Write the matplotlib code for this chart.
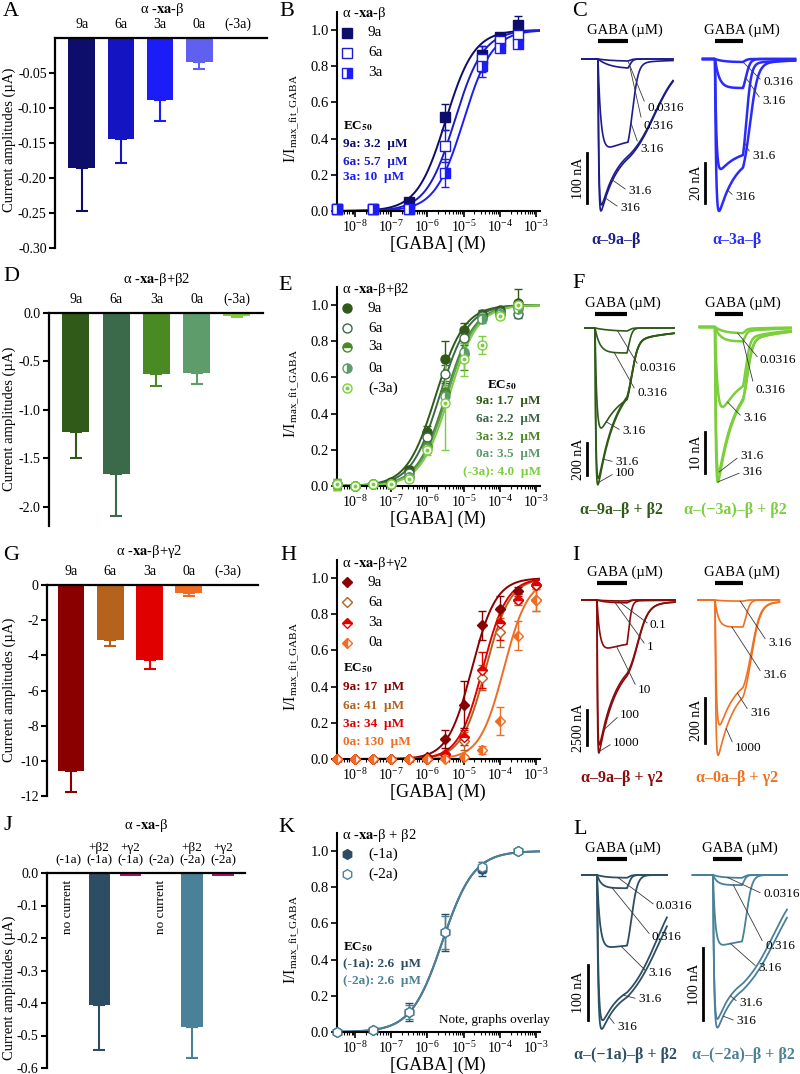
import numpy as np
import matplotlib
matplotlib.use("Agg")
import matplotlib.pyplot as plt
from matplotlib.lines import Line2D
from matplotlib.ticker import FixedLocator, LogLocator, NullFormatter

plt.rcParams['font.family'] = ['Liberation Serif', 'DejaVu Serif']
plt.rcParams['mathtext.fontset'] = 'stix'
plt.rcParams['axes.unicode_minus'] = False

W, H = 800, 1074

# ---------------- bar charts: current amplitudes (uA) ----------------
cats5 = ['9a', '6a', '3a', '0a', '(-3a)']
a_mean = [-0.185, -0.144, -0.089, -0.034, 0.0]
a_sem = [0.062, 0.034, 0.029, 0.010, 0.0]
a_cols = ['#0d0d6b', '#1414c2', '#1c1cf6', '#5f5ff0', '#8a8af5']

d_mean = [-1.23, -1.66, -0.63, -0.62, -0.03]
d_sem = [0.27, 0.44, 0.12, 0.11, 0.01]
d_cols = ['#2f5a17', '#3a6a49', '#4a8a22', '#5e9c6c', '#7ccf3a']

g_mean = [-10.6, -3.1, -4.25, -0.45, 0.0]
g_sem = [1.2, 0.35, 0.5, 0.15, 0.0]
g_cols = ['#8a0000', '#b4621c', '#e00000', '#ef6c22', '#f5a070']

j_cats = ['(-1a)', '+β2\n(-1a)', '+γ2\n(-1a)', '(-2a)', '+β2\n(-2a)', '+γ2\n(-2a)']
j_mean = [0.0, -0.405, -0.008, 0.0, -0.475, -0.010]
j_sem = [0.0, 0.14, 0.0, 0.0, 0.093, 0.0]
j_cols = ['#2d4e62', '#2d4e62', '#b0106a', '#4b8198', '#4b8198', '#b0106a']

# ---------------- dose-response data ----------------
b_conc = [3.16e-9, 3.16e-8, 3.16e-7, 3.16e-6, 3.16e-5, 1e-4, 3.16e-4]
b_names = ['9a', '6a', '3a']
b_9a = [0.01, 0.01, 0.05, 0.52, 0.86, 0.96, 1.03]
b_9a_sem = [0.0, 0.01, 0.01, 0.07, 0.05, 0.01, 0.05]
b_6a = [0.01, 0.01, 0.01, 0.36, 0.84, 0.94, 0.97]
b_6a_sem = [0.0, 0.01, 0.01, 0.09, 0.07, 0.02, 0.03]
b_3a = [0.01, 0.01, 0.01, 0.21, 0.80, 0.90, 0.92]
b_3a_sem = [0.0, 0.01, 0.01, 0.08, 0.06, 0.02, 0.02]
b_ec50 = [3.2, 5.7, 10]
b_cols = ['#0d0d6b', '#1c1cc8', '#1c1cf6']

e_conc = [3.16e-9, 1e-8, 3.16e-8, 1e-7, 3.16e-7, 1e-6, 3.16e-6, 1e-5, 3.16e-5, 1e-4, 3.16e-4]
e_names = ['9a', '6a', '3a', '0a', '(-3a)']
e_9a = [0.01, 0.0, 0.01, 0.02, 0.09, 0.30, 0.70, 0.86, 0.95, 0.97, 1.01]
e_9a_sem = [0.03, 0.01, 0.01, 0.01, 0.02, 0.03, 0.10, 0.04, 0.02, 0.01, 0.08]
e_6a = [0.01, 0.0, 0.01, 0.01, 0.07, 0.27, 0.62, 0.82, 0.94, 0.96, 0.95]
e_6a_sem = [0.02, 0.01, 0.01, 0.01, 0.02, 0.03, 0.05, 0.04, 0.02, 0.01, 0.01]
e_3a = [0.01, 0.0, 0.01, 0.01, 0.05, 0.22, 0.52, 0.73, 0.93, 0.95, 0.99]
e_3a_sem = [0.02, 0.01, 0.01, 0.01, 0.02, 0.03, 0.06, 0.09, 0.02, 0.01, 0.02]
e_0a = [0.01, 0.0, 0.01, 0.01, 0.05, 0.21, 0.50, 0.74, 0.92, 0.95, 0.98]
e_0a_sem = [0.02, 0.01, 0.01, 0.01, 0.02, 0.03, 0.06, 0.05, 0.02, 0.01, 0.02]
e_m3a = [0.01, 0.0, 0.01, 0.01, 0.04, 0.20, 0.46, 0.70, 0.78, 0.94, 1.00]
e_m3a_sem = [0.03, 0.01, 0.01, 0.01, 0.02, 0.03, 0.26, 0.09, 0.05, 0.02, 0.02]
e_ec50 = [1.7, 2.2, 3.2, 3.5, 4.0]
e_cols = ['#2f5a17', '#3a6a49', '#4a8a22', '#5e9c6c', '#7ccf3a']

h_conc = [3.16e-9, 1e-8, 3.16e-8, 1e-7, 3.16e-7, 1e-6, 3.16e-6, 1e-5, 3.16e-5, 1e-4, 3.16e-4, 1e-3]
h_names = ['9a', '6a', '3a', '0a']
h_9a = [0.0, 0.0, 0.0, 0.0, 0.0, 0.01, 0.11, 0.30, 0.74, 0.83, 0.93, 0.96]
h_9a_sem = [0, 0, 0, 0, 0, 0.01, 0.05, 0.13, 0.08, 0.07, 0.02, 0.01]
h_6a = [0.0, 0.0, 0.0, 0.0, 0.0, 0.0, 0.02, 0.10, 0.45, 0.70, 0.88, 0.88]
h_6a_sem = [0, 0, 0, 0, 0, 0, 0.01, 0.05, 0.07, 0.08, 0.03, 0.06]
h_3a = [0.0, 0.0, 0.0, 0.0, 0.0, 0.0, 0.03, 0.12, 0.49, 0.75, 0.88, 0.96]
h_3a_sem = [0, 0, 0, 0, 0, 0, 0.01, 0.04, 0.10, 0.09, 0.02, 0.01]
h_0a = [0.0, 0.0, 0.0, 0.0, 0.0, 0.0, 0.0, 0.01, 0.05, 0.21, 0.68, 0.88]
h_0a_sem = [0, 0, 0, 0, 0, 0, 0, 0.01, 0.02, 0.08, 0.08, 0.06]
h_ec50 = [17, 41, 34, 130]
h_cols = ['#8a0000', '#b4621c', '#e00000', '#ef6c22']

k_conc = [3.16e-9, 3.16e-8, 3.16e-7, 3.16e-6, 3.16e-5, 3.16e-4]
k_names = ['(-1a)', '(-2a)']
k_1a = [0.0, 0.01, 0.11, 0.55, 0.90, 1.0]
k_1a_sem = [0.0, 0.01, 0.05, 0.10, 0.04, 0.0]
k_2a = [0.0, 0.01, 0.11, 0.55, 0.91, 1.0]
k_2a_sem = [0.0, 0.01, 0.04, 0.09, 0.03, 0.0]
k_ec50 = [2.6, 2.6]
k_cols = ['#2d4e62', '#4b8198']

# ---------------- example current traces ----------------
# per trace: (peak nA, onset tau, steady fraction, wash-out delay, slow tail)
c1_labels = ['0.0316', '0.316', '3.16', '31.6', '316']
c1_params = [(4, 0.5, 1.0, 0.05, 0.0), (18, 0.4, 1.0, 0.05, 0.0), (176, 0.1, 0.8, 0.15, 0.05),
             (292, 0.03, 0.5, 0.9, 0.12), (304, 0.025, 0.5, 0.9, 0.15)]
c2_labels = ['0.316', '3.16', '31.6', '316']
c2_params = [(1.5, 0.3, 1.0, 0.05, 0.0), (14.5, 0.15, 1.0, 0.1, 0.0), (55, 0.05, 0.75, 0.12, 0.05),
             (76, 0.04, 0.54, 0.25, 0.05)]
f1_labels = ['0.0316', '0.316', '3.16', '31.6', '100']
f1_params = [(19, 0.5, 1.0, 0.05, 0.0), (156, 0.15, 1.0, 0.05, 0.0), (625, 0.06, 0.5, 0.15, 0.2),
             (940, 0.03, 0.25, 0.15, 0.2), (980, 0.025, 0.25, 0.15, 0.2)]
f2_labels = ['0.0316', '0.316', '3.16', '31.6', '316']
f2_params = [(1.5, 0.3, 1.0, 0.05, 0.3), (3.5, 0.2, 1.0, 0.05, 0.3), (19.5, 0.1, 0.45, 0.1, 0.2),
             (35.6, 0.04, 0.27, 0.15, 0.2), (37.8, 0.03, 0.27, 0.15, 0.2)]
i1_labels = ['0.1', '1', '10', '100', '1000']
i1_params = [(70, 0.3, 1.0, 0.05, 0.0), (200, 0.3, 1.0, 0.05, 0.0), (3430, 0.1, 0.75, 0.05, 0.02),
             (10360, 0.02, 0.33, 0.35, 0.08), (10930, 0.015, 0.33, 0.35, 0.08)]
i2_labels = ['3.16', '31.6', '316', '1000']
i2_params = [(5, 0.3, 1.0, 0.05, 0.0), (120, 0.12, 1.0, 0.1, 0.0), (555, 0.05, 0.5, 0.3, 0.05),
             (690, 0.03, 0.45, 0.3, 0.05)]
l1_labels = ['0.0316', '0.316', '3.16', '31.6', '316']
l1_params = [(5, 0.3, 1.0, 0.05, 0.0), (24, 0.15, 1.0, 0.05, 0.0), (131, 0.1, 0.9, 0.15, 0.0),
             (264, 0.05, 0.65, 1.0, 0.12), (280, 0.04, 0.65, 1.1, 0.15)]
l2_labels = ['0.0316', '0.316', '3.16', '31.6', '316']
l2_params = [(4, 0.3, 1.0, 0.05, 0.0), (14, 0.15, 1.0, 0.05, 0.0), (97, 0.08, 0.85, 0.15, 0.0),
             (200, 0.04, 0.6, 1.1, 0.15), (212, 0.04, 0.6, 1.2, 0.15)]
scale_nA = {'C1': 100, 'C2': 20, 'F1': 200, 'F2': 10, 'I1': 2500, 'I2': 200, 'L1': 100, 'L2': 100}
TDES = 0.6

fig = plt.figure(figsize=(8, 10.74), dpi=100)


def ftext(px, py, s, **kw):
    return fig.text(px / W, 1 - py / H, s, **kw)


def px_axes(l, t, r, b):
    ax = fig.add_axes([l / W, 1 - b / H, (r - l) / W, (b - t) / H])
    ax.set_facecolor('none')
    return ax


# ---------------- bar panels ----------------
def bar_panel(box, cats, mean, sem, cols, ylim, yticks, fmt, xlim, width, title, title_px, ylab_py,
              catsize=10):
    ax = px_axes(*box)
    x = np.arange(len(cats))
    ax.bar(x, mean, width, color=cols, zorder=2)
    for xi, m, s, c in zip(x, mean, sem, cols):
        if s > 0:
            ax.errorbar([xi], [m], yerr=[[s], [0]], fmt='none', ecolor=c, elinewidth=1.5,
                        capsize=4.5, capthick=1.5, zorder=3)
    ax.set_xlim(*xlim)
    ax.set_ylim(*ylim)
    ax.spines[['right', 'bottom']].set_visible(False)
    ax.spines['top'].set_linewidth(1.6)
    ax.spines['left'].set_linewidth(1.6)
    ax.xaxis.tick_top()
    ax.set_xticks(x)
    ax.set_xticklabels(cats, fontsize=catsize, linespacing=1.0)
    ax.tick_params(axis='x', length=0, pad=5)
    ax.set_yticks(yticks)
    ax.set_yticklabels([fmt % v for v in yticks], fontsize=10)
    ax.tick_params(axis='y', direction='out', length=4, width=1.5, pad=2)
    ftext(title_px[0], title_px[1], title, ha='center', va='center', fontsize=10.5)
    ftext(9, ylab_py, 'Current amplitudes (µA)', rotation=90, ha='center', va='center', fontsize=10.5)
    return ax


bar_panel((55, 38, 267, 248), cats5, a_mean, a_sem, a_cols, (-0.30, 0),
          [-0.05, -0.10, -0.15, -0.20, -0.25, -0.30], '%.2f', (-0.69, 4.74), 0.69,
          r'α -$\mathbf{xa}$-β', (162, 9), 140)
bar_panel((49, 313, 263, 526), cats5, d_mean, d_sem, d_cols, (-2.2, 0),
          [0.0, -0.5, -1.0, -1.5, -2.0], '%.1f', (-0.67, 4.65), 0.67,
          r'α -$\mathbf{xa}$-β+β2', (157, 280), 419)
bar_panel((47, 585, 258, 796), cats5, g_mean, g_sem, g_cols, (-12, 0),
          [0, -2, -4, -6, -8, -10, -12], '%d', (-0.61, 4.76), 0.68,
          r'α -$\mathbf{xa}$-β+γ2', (149, 552), 690)
axj = bar_panel((47, 873, 245, 1068), j_cats, j_mean, j_sem, j_cols, (-0.6, 0),
                [0.0, -0.1, -0.2, -0.3, -0.4, -0.5, -0.6], '%.1f', (-0.68, 5.71), 0.68,
                r'α -$\mathbf{xa}$-β', (146, 825), 988, catsize=9.5)
for xi, v in enumerate(j_mean):
    if v == 0:
        axj.text(xi, -0.02, 'no current', rotation=90, ha='center', va='top', fontsize=9.5)


# ---------------- dose-response panels ----------------
def marker_lines(x, y, c, st, marker, ms, **kw):
    base = dict(ls='none', marker=marker, ms=ms, mec=c, mew=1.0, clip_on=False, zorder=4, **kw)
    if st == 'filled':
        out = [Line2D(x, y, mfc=c, **base)]
    elif st in ('open', 'dot'):
        out = [Line2D(x, y, mfc='white', **base)]
    else:
        out = [Line2D(x, y, mfc=c, fillstyle=st, markerfacecoloralt='white', **base)]
    if st == 'dot':
        out.append(Line2D(x, y, ls='none', marker='o', ms=1.8, mfc=c, mec=c,
                          clip_on=False, zorder=5, **kw))
    return out


def dose_panel(zero_py, conc, ys, sems, cols, styles, marker, ms, ec50, hill,
               names, title, title_py, rows_py, ec_fmt, ec_x, ec_ha, ec_head, ec_rows):
    unit = 181.0
    ax = px_axes(337, zero_py - 1.1 * unit, 540, zero_py)
    ax.set_xscale('log')
    ax.set_xlim(3.16e-9, 1.3e-3)
    ax.set_ylim(0, 1.1)
    xs = np.logspace(np.log10(3.16e-9), np.log10(1.3e-3), 400)
    for ec, c in zip(ec50, cols):
        ax.plot(xs, 1 / (1 + (ec * 1e-6 / xs) ** hill), color=c, lw=1.4, zorder=2)
    for y, s, c, st in zip(ys, sems, cols, styles):
        ax.errorbar(conc, y, yerr=s, fmt='none', ecolor=c, elinewidth=1, capsize=3,
                    capthick=1, zorder=3, clip_on=False)
        for ln in marker_lines(conc, y, c, st, marker, ms):
            ax.add_line(ln)
    ax.spines[['top', 'right']].set_visible(False)
    for sp in ('left', 'bottom'):
        ax.spines[sp].set_linewidth(1.5)
    ax.xaxis.set_major_locator(FixedLocator([1e-8, 1e-7, 1e-6, 1e-5, 1e-4, 1e-3]))
    ax.xaxis.set_minor_locator(LogLocator(base=10, subs=np.arange(2, 10), numticks=20))
    ax.xaxis.set_minor_formatter(NullFormatter())
    yt = [0.0, 0.2, 0.4, 0.6, 0.8, 1.0]
    ax.set_yticks(yt)
    ax.set_yticklabels(['%.1f' % v for v in yt])
    ax.tick_params(which='major', direction='out', length=4, width=1.2, labelsize=10.5, pad=2)
    ax.tick_params(axis='x', which='major', labelsize=10)
    ax.tick_params(which='minor', direction='out', length=2.5, width=0.8)
    ftext(292, zero_py - 0.55 * unit + 7, r'I/I$_{\mathregular{max\_fit\_GABA}}$',
          rotation=90, ha='center', va='center', fontsize=11.5)
    ftext(438, zero_py + 33, '[GABA] (M)', ha='center', va='center', fontsize=13)
    # legend
    ftext(342, title_py, title, ha='left', va='center', fontsize=10.5)
    for lab, py, c, st in zip(names, rows_py, cols, styles):
        for ln in marker_lines([347 / W], [1 - py / H], c, st, marker, ms,
                               transform=fig.transFigure):
            fig.add_artist(ln)
        ftext(368, py, lab, ha='left', va='center', fontsize=11)
    # EC50 block
    ftext(ec_head[0], ec_head[1], r'EC$_{\mathbf{50}}$', ha='left', va='center',
          fontsize=9.5, fontweight='bold')
    for lab, v, c, py in zip(names, ec50, cols, ec_rows):
        ftext(ec_x, py, '%s: %s  µM' % (lab, ec_fmt % v), ha=ec_ha, va='center',
              fontsize=9.5, fontweight='bold', color=c)
    return ax


dose_panel(211, b_conc, [b_9a, b_6a, b_3a], [b_9a_sem, b_6a_sem, b_3a_sem], b_cols,
           ['filled', 'open', 'right'], 's', 6.5, b_ec50, 1.1, b_names,
           r'α -$\mathbf{xa}$-β', 14, [33, 53, 73], '%g', 343, 'left', (343, 126), [144, 162, 177])
dose_panel(486, e_conc, [e_9a, e_6a, e_3a, e_0a, e_m3a],
           [e_9a_sem, e_6a_sem, e_3a_sem, e_0a_sem, e_m3a_sem], e_cols,
           ['filled', 'open', 'top', 'right', 'dot'], 'o', 6.5, e_ec50, 1.1, e_names,
           r'α -$\mathbf{xa}$-β+β2', 290, [308, 328, 347, 368, 388], '%.1f', 541, 'right',
           (487, 385), [401, 419, 437, 454, 472])
dose_panel(759, h_conc, [h_9a, h_6a, h_3a, h_0a], [h_9a_sem, h_6a_sem, h_3a_sem, h_0a_sem],
           h_cols, ['filled', 'open', 'top', 'left'], 'D', 5.5, h_ec50, 1.3, h_names,
           r'α -$\mathbf{xa}$-β+γ2', 563, [582, 602, 623, 643], '%g', 343, 'left',
           (343, 668), [687, 706, 724, 742])
dose_panel(1032, k_conc, [k_1a, k_2a], [k_1a_sem, k_2a_sem], k_cols, ['filled', 'open'],
           'h', 7, k_ec50, 1.0, k_names, r'α -$\mathbf{xa}$-β + β2', 836, [854, 874], '%.1f',
           343, 'left', (343, 947), [964, 981])
ftext(439, 1020, 'Note, graphs overlay', ha='left', va='center', fontsize=9.5)


# ---------------- trace panels ----------------
def trace_shape(t, peak, ton, ss, rec, tail):
    t = np.atleast_1d(np.asarray(t, dtype=float))

    def on(s):
        return (1 - np.exp(-s / ton)) * (ss + (1 - ss) * np.exp(-s / TDES))

    norm = on(np.linspace(0, 1, 500)).max()
    y = np.zeros_like(t)
    m = (t >= 0) & (t <= 1)
    y[m] = on(t[m])
    s = t[t > 1] - 1
    wd = 0.4 * rec + 0.04
    sig = (1 + np.exp(-rec / wd)) / (1 + np.exp((s - rec) / wd))
    y[t > 1] = on(1.0) * ((1 - tail) * sig + tail * np.exp(-s / 1.5))
    return -peak * y / norm


def trace_panel(app, base, ppn, span, labels, params, color, lw, lab_px, anchors,
                scale, scale_px, gaba_px, name, name_px):
    x0, x1 = app
    w = x1 - x0
    t0, t1 = span
    l, r = x0 + t0 * w - 30, x0 + t1 * w + 10
    top, bot = base - 45, base + 180
    ax = px_axes(l, top, r, bot)
    ax.set_xlim((l - x0) / w, (r - x0) / w)
    ax.set_ylim(-(bot - base) / ppn, (base - top) / ppn)
    ax.set_axis_off()
    t = np.linspace(t0, t1, 800)
    for p in params:
        ax.plot(t, trace_shape(t, *p), color=color, lw=lw, clip_on=False,
                solid_joinstyle='round')
    for lab, p, (px, py), ta in zip(labels, params, lab_px, anchors):
        ya = trace_shape(ta, *p)[0]
        ax.annotate(lab, xy=(ta, ya), xytext=(px / W, 1 - py / H), textcoords='figure fraction',
                    ha='left', va='center', fontsize=9.5, annotation_clip=False,
                    arrowprops=dict(arrowstyle='-', color='#3a3a3a', lw=0.6,
                                    shrinkA=0, shrinkB=0, relpos=(0, 0.5)))
    gx, gy = gaba_px
    ftext(gx, gy, 'GABA (µM)', ha='left', va='center', fontsize=10.5)
    yb = (base - (gy + 11)) / ppn
    ax.plot([0, 1], [yb, yb], color='black', lw=3, solid_capstyle='butt', clip_on=False)
    sx, sy = scale_px
    xs = (sx - x0) / w
    ytop = -(sy - base) / ppn
    ax.plot([xs, xs], [ytop, ytop - scale], color='black', lw=2, clip_on=False)
    ftext(sx - 9, sy + scale * ppn / 2, '%d nA' % scale, rotation=90, ha='center',
          va='center', fontsize=10)
    ftext(name_px[0], name_px[1], name, ha='center', va='center', fontsize=11.5,
          fontweight='bold', color=color)


trace_panel((598, 628), 59, 0.5, (-0.53, 2.5), c1_labels, c1_params, '#1c1c8a', 1.2,
            [(647, 108), (643, 126), (640, 149), (628, 191), (620, 208)], [1.0, 1.05, 1.1, 0.45, 0.25],
            scale_nA['C1'], (587, 153), (587, 30), 'α–9a–β', (616, 240))
trace_panel((715, 743), 59, 2.0, (-0.43, 2.86), c2_labels, c2_params, '#2a2aff', 1.8,
            [(763, 82), (762, 101), (752, 156), (735, 197)], [1.0, 1.1, 1.05, 0.45],
            scale_nA['C2'], (705, 163), (704, 30), 'α–3a–β', (737, 240))
trace_panel((595, 627), 328, 0.16, (-0.31, 2.47), f1_labels, f1_params, '#2f5a17', 1.2,
            [(640, 368), (637, 393), (622, 431), (615, 462), (615, 473)], [0.7, 0.6, 0.35, 0.25, 0.12],
            scale_nA['F1'], (587, 443), (585, 303), 'α–9a–β + β2', (622, 510))
trace_panel((715, 743), 327, 4.1, (-0.54, 2.7), f2_labels, f2_params, '#7ccf3c', 1.8,
            [(760, 360), (755, 390), (743, 418), (740, 456), (742, 472)], [0.8, 1.0, 0.45, 0.15, 0.1],
            scale_nA['F2'], (705, 432), (705, 303), 'α–(−3a)–β + β2', (735, 510))
trace_panel((597, 627), 600, 0.014, (-0.5, 2.6), i1_labels, i1_params, '#8b0a0a', 1.2,
            [(650, 625), (647, 647), (638, 690), (620, 715), (613, 743)], [0.7, 0.6, 0.65, 0.2, 0.05],
            scale_nA['I1'], (587, 710), (587, 572), 'α–9a–β + γ2', (622, 778))
trace_panel((715, 743), 600, 0.225, (-0.6, 2.3), i2_labels, i2_params, '#f07020', 1.2,
            [(768, 643), (763, 675), (750, 713), (735, 748)], [0.9, 0.6, 0.8, 0.4],
            scale_nA['I2'], (705, 698), (704, 572), 'α–0a–β + γ2', (737, 778))
trace_panel((597, 627), 875, 0.55, (-0.5, 2.33), l1_labels, l1_params, '#2d4f63', 1.3,
            [(656, 906), (652, 937), (648, 973), (638, 999), (617, 1027)], [0.7, 0.5, 0.8, 0.87, 0.4],
            scale_nA['L1'], (588, 965), (585, 848), 'α–(−1a)–β + β2', (625, 1055))
trace_panel((713, 742), 875, 0.72, (-0.7, 2.55), l2_labels, l2_params, '#4a8098', 1.3,
            [(763, 894), (765, 946), (758, 968), (739, 1003), (736, 1021)], [0.5, 0.7, 0.6, 0.6, 0.35],
            scale_nA['L2'], (703, 948), (702, 848), 'α–(−2a)–β + β2', (743, 1055))

# panel letters
for letter, (px, py) in zip('ABCDEFGHIJKL',
                            [(3, 12), (279, 12), (572, 12), (3, 276), (278, 285), (572, 283),
                             (3, 556), (280, 556), (572, 555), (3, 826), (278, 828), (573, 829)]):
    ftext(px, py, letter, ha='left', va='center', fontsize=16)

fig.savefig('out.png', dpi=100)
